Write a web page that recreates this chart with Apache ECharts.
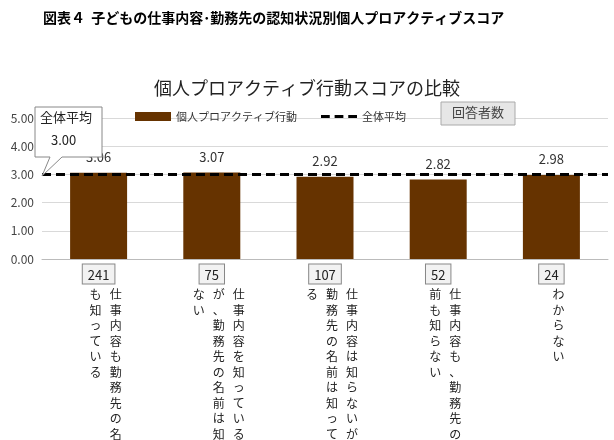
<!DOCTYPE html>
<html>
<head>
<meta charset="UTF-8">
<script src="https://cdn.jsdelivr.net/npm/echarts@6/dist/echarts.min.js"></script>
<style>body{margin:0;background:#fff}#graph{width:614px;height:440px}</style>
</head>
<body>
<div id="graph"></div>
<script>
// column breaks marked with "|" (vertical text, columns read right to left)
var categories = ['仕事内容も勤務先の名前|も知っている', '仕事内容を知っている|が、勤務先の名前は知ら|ない',
  '仕事内容は知らないが、|勤務先の名前は知ってい|る', '仕事内容も、勤務先の名|前も知らない', 'わからない'];
var scores = [3.06, 3.07, 2.92, 2.82, 2.98];
var counts = [241, 75, 107, 52, 24];
var average = 3.00;
var yTicks = [0, 1, 2, 3, 4, 5];
var font = '"Noto Sans CJK JP", sans-serif';

function vertical(s) {
  var cols = s.split('|');
  var n = Math.max.apply(null, cols.map(function (c) { return c.length; }));
  var rows = [];
  for (var i = 0; i < n; i++) {
    var r = [];
    for (var j = cols.length - 1; j >= 0; j--) r.push(cols[j][i] || '　');
    rows.push(r.join('   '));
  }
  return rows.join('\n');
}

var myChart = echarts.init(document.getElementById('graph'));
var option = {
  animation: false,
  textStyle: { fontFamily: font },
  title: [
    { text: '図表４  子どもの仕事内容･勤務先の認知状況別個人プロアクティブスコア', left: 38, top: 6,
      textStyle: { fontSize: 14, fontWeight: 'bold', color: '#000', fontFamily: font } },
    { text: '個人プロアクティブ行動スコアの比較', left: 'center', top: 74,
      textStyle: { fontSize: 18, fontWeight: 'normal', color: '#222', fontFamily: font } }
  ],
  legend: {
    top: 106, left: 130, itemGap: 24, itemWidth: 36, itemHeight: 9,
    textStyle: { fontSize: 11, color: '#333', fontFamily: font },
    data: [{ name: '個人プロアクティブ行動', icon: 'rect' },
           { name: '全体平均', icon: 'path://M0,4h9v3h-9zM14,4h9v3h-9zM28,4h9v3h-9z', itemStyle: { color: '#000' } }]
  },
  grid: { left: 42, right: 6, top: 118, bottom: 181, containLabel: false, outerBoundsMode: 'none' },
  xAxis: {
    type: 'category', data: categories,
    axisLine: { lineStyle: { color: '#bbb' } }, axisTick: { show: false },
    axisLabel: {
      interval: 0, margin: 6,
      formatter: function (v, i) { return '{box|' + counts[i] + '}\n{t|' + vertical(v) + '}'; },
      rich: {
        box: { fontSize: 13, color: '#222', backgroundColor: '#f2f2f2', borderColor: '#888', borderWidth: 1,
               padding: [4, 5, 2, 5], fontFamily: font, lineHeight: 18 },
        t: { fontSize: 12, color: '#222', lineHeight: 15.5, padding: [8, 0, 0, 14], fontFamily: font }
      }
    }
  },
  yAxis: {
    type: 'value', min: 0, max: 5, interval: 1,
    axisLabel: { formatter: function (v) { return v.toFixed(2); }, fontSize: 12, color: '#444', margin: 8 },
    splitLine: { lineStyle: { color: '#d9d9d9' } }
  },
  series: [
    { name: '個人プロアクティブ行動', type: 'bar', data: scores, barWidth: 57, z: 2,
      itemStyle: { color: '#663300' },
      label: { show: true, position: 'top', distance: 9, fontSize: 13, color: '#333',
               formatter: function (p) { return p.value.toFixed(2); } } },
    { name: '全体平均', type: 'line', data: [], itemStyle: { color: '#000' },
      markLine: { symbol: 'none', silent: true, z: 5,
        lineStyle: { color: '#000', type: [9, 5], width: 3 },
        label: { show: false }, data: [{ yAxis: average }] } }
  ],
  graphic: [
    { type: 'polygon', shape: { points: [[35, 107], [102, 107], [102, 157], [62, 157], [42, 176], [50, 157], [35, 157]] },
      style: { fill: '#fff', stroke: '#888', lineWidth: 1 }, z: 10 },
    { type: 'text', left: 40, top: 111, z: 11, style: { text: '全体平均', font: '13px ' + font, fill: '#222' } },
    { type: 'text', left: 51, top: 134, z: 11, style: { text: average.toFixed(2), font: '13px ' + font, fill: '#222' } },
    { type: 'rect', shape: { x: 441, y: 102, width: 74, height: 23 },
      style: { fill: '#e6e6e6', stroke: '#aaa', lineWidth: 1 }, z: 10 },
    { type: 'text', left: 452, top: 106, z: 11, style: { text: '回答者数', font: '13px ' + font, fill: '#444' } }
  ]
};
myChart.setOption(option);
</script>
</body>
</html>
